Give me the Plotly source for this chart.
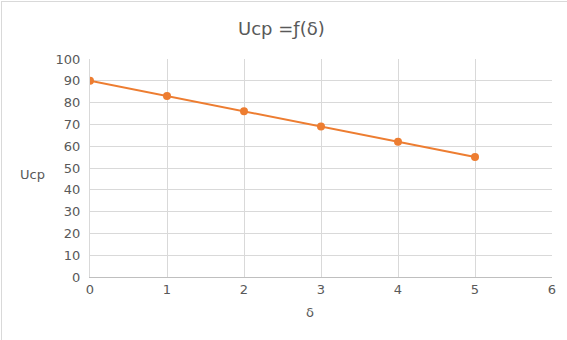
import plotly.graph_objects as go

delta = [0, 1, 2, 3, 4, 5]
ucp = [90, 83, 76, 69, 62, 55]

title_text = "Ucp =ƒ(δ)"
x_title = "δ"
y_title = "Ucp"

W, H = 567, 340
ml, mr, mt, mb = 90, 15, 59, 63
pw, ph = W - ml - mr, H - mt - mb

def px_x(p):
    return (p - ml) / pw

def px_y(p):
    return (H - mb - p) / ph

fig = go.Figure()
fig.add_trace(go.Scatter(
    x=delta, y=ucp, mode="lines+markers",
    line=dict(color="#ED7D31", width=2),
    marker=dict(color="#ED7D31", size=8),
    showlegend=False,
))

font_family = "DejaVu Sans, Verdana, sans-serif"
fig.update_layout(
    width=W, height=H,
    margin=dict(l=ml, r=mr, t=mt, b=mb, pad=0),
    paper_bgcolor="white", plot_bgcolor="white",
    font=dict(family=font_family, color="#595959", size=13),
    xaxis=dict(range=[0, 6], dtick=1, showgrid=True, gridcolor="#d9d9d9", gridwidth=1,
               zeroline=False, showline=True, linecolor="#bfbfbf", linewidth=1,
               ticks="", tickfont=dict(size=13, color="#595959"), ticklabelstandoff=0),
    yaxis=dict(range=[0, 100], dtick=10, showgrid=True, gridcolor="#d9d9d9", gridwidth=1,
               zeroline=False, showline=True, linecolor="#d9d9d9", linewidth=1,
               ticks="", tickfont=dict(size=13, color="#595959"), ticklabelstandoff=6),
    annotations=[
        dict(text=title_text, xref="paper", yref="paper", x=px_x(281), y=px_y(29),
             xanchor="center", yanchor="middle", showarrow=False,
             font=dict(size=18, color="#595959", family=font_family)),
        dict(text=x_title, xref="paper", yref="paper", x=px_x(310), y=px_y(312),
             xanchor="center", yanchor="middle", showarrow=False,
             font=dict(size=13, color="#595959", family=font_family)),
        dict(text=y_title, xref="paper", yref="paper", x=px_x(32), y=px_y(174),
             xanchor="center", yanchor="middle", showarrow=False,
             font=dict(size=13, color="#595959", family=font_family)),
    ],
    shapes=[
        dict(type="line", xref="paper", yref="paper", x0=px_x(1.5), x1=px_x(1.5),
             y0=px_y(1), y1=px_y(345), line=dict(color="#d9d9d9", width=1)),
        dict(type="line", xref="paper", yref="paper", x0=px_x(1), x1=px_x(570),
             y0=px_y(1.5), y1=px_y(1.5), line=dict(color="#d9d9d9", width=1)),
    ],
)

fig.write_html("out.html")
